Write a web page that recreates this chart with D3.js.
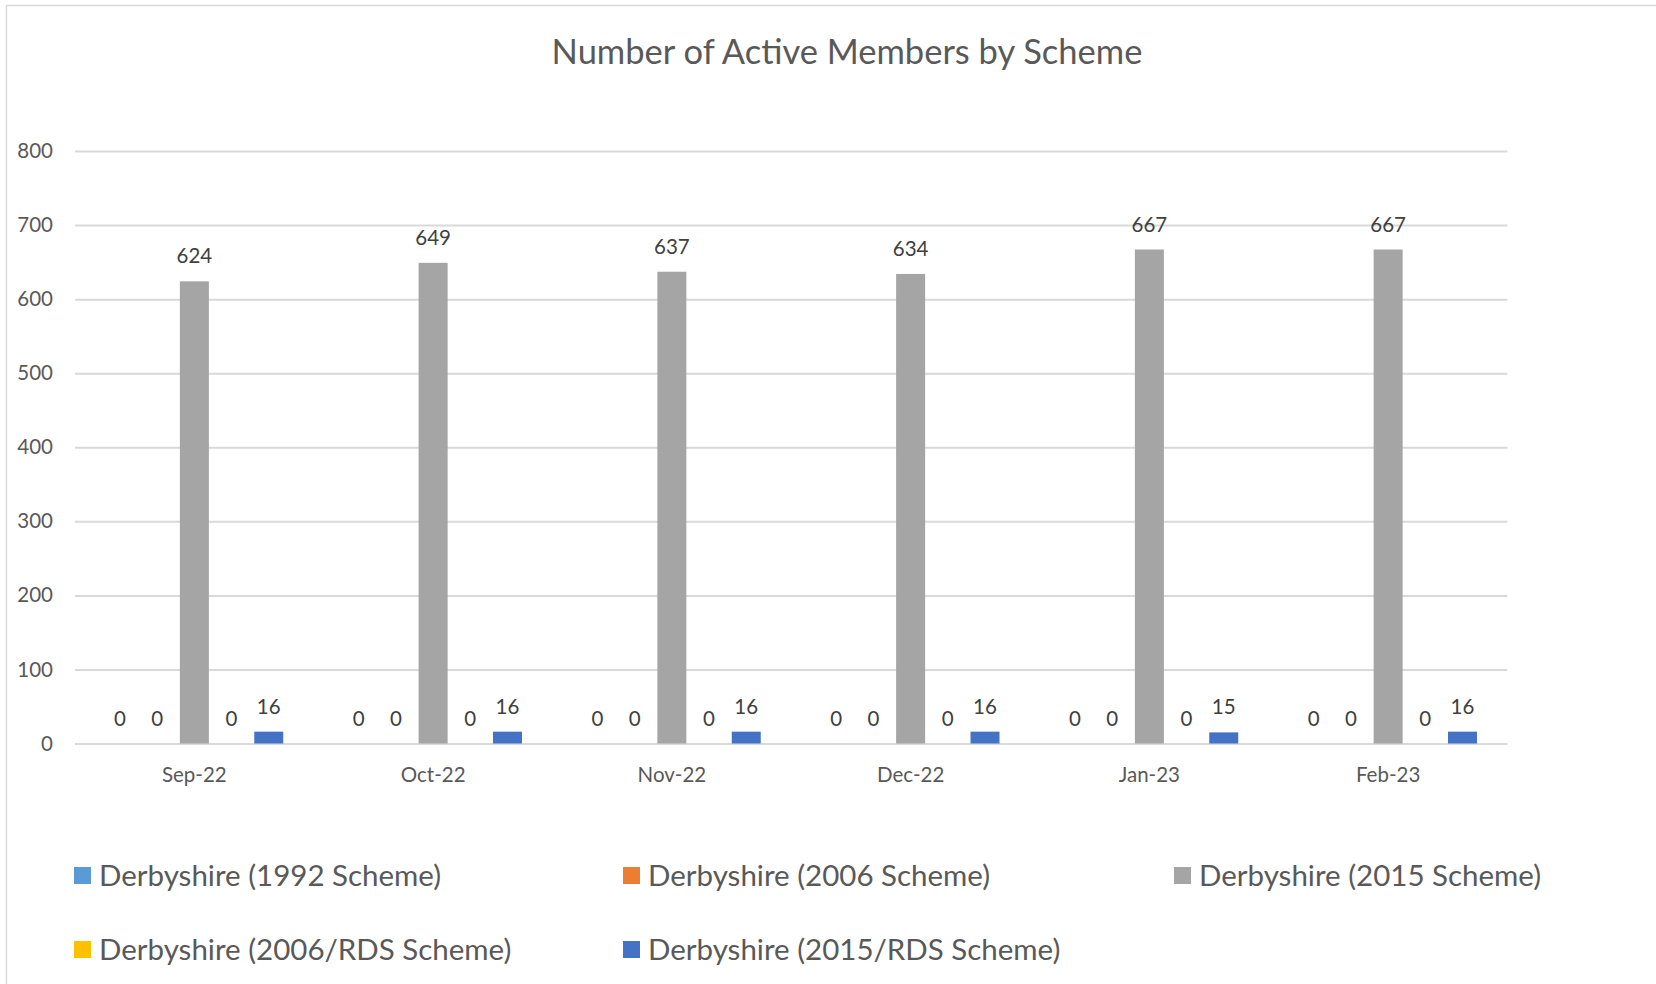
<!DOCTYPE html>
<html>
<head>
<meta charset="utf-8">
<script src="https://cdnjs.cloudflare.com/ajax/libs/d3/7.8.5/d3.min.js"></script>
<style>
  body { margin: 0; background: #ffffff; }
  svg { display: block; font-family: Lato, "Open Sans", sans-serif; }
</style>
</head>
<body>
<svg></svg>
<script>
// Category labels along the x axis
let months = ["Sep-22", "Oct-22", "Nov-22", "Dec-22", "Jan-23", "Feb-23"];

// One array per scheme
let scheme1992 = [0, 0, 0, 0, 0, 0];
let scheme2006 = [0, 0, 0, 0, 0, 0];
let scheme2015 = [624, 649, 637, 634, 667, 667];
let scheme2006Rds = [0, 0, 0, 0, 0, 0];
let scheme2015Rds = [16, 16, 16, 16, 15, 16];

// Series names, in the order they are drawn
let seriesNames = [
  "Derbyshire (1992 Scheme)",
  "Derbyshire (2006 Scheme)",
  "Derbyshire (2015 Scheme)",
  "Derbyshire (2006/RDS Scheme)",
  "Derbyshire (2015/RDS Scheme)"
];
let seriesColors = ["#5b9bd5", "#ed7d31", "#a5a5a5", "#ffc000", "#4472c4"];
let yTicks = [0, 100, 200, 300, 400, 500, 600, 700, 800];

let series = [scheme1992, scheme2006, scheme2015, scheme2006Rds, scheme2015Rds];

let width = 1656;
let height = 984;
let plotLeft = 75;
let plotRight = 1507.5;
let plotTop = 151;
let plotBottom = 743.5;

let svg = d3.select("svg").attr("width", width).attr("height", height);

// chart frame, only left and top edges fall inside the picture
svg.append("rect")
   .attr("x", 6.5)
   .attr("y", 5.5)
   .attr("width", 2000)
   .attr("height", 2000)
   .attr("fill", "none")
   .attr("stroke", "#d9d9d9")
   .attr("stroke-width", 1.5);

// title
svg.append("text")
   .attr("x", 847)
   .attr("y", 63.5)
   .attr("text-anchor", "middle")
   .attr("font-size", 34.5)
   .attr("fill", "#595959")
   .text("Number of Active Members by Scheme");

// scales
let xScale = d3.scaleBand()
               .domain(months)
               .range([plotLeft, plotRight]);

let xInner = d3.scaleBand()
               .domain(d3.range(series.length))
               .range([0, xScale.bandwidth()])
               .paddingInner(0.22)
               .paddingOuter(0.82);

let yScale = d3.scaleLinear()
               .domain([0, 800])
               .range([plotBottom, plotTop]);

// gridlines + y labels
let yAxis = d3.axisLeft(yScale)
              .tickValues(yTicks)
              .tickSize(-(plotRight - plotLeft))
              .tickPadding(22);

let yAxisG = svg.append("g")
   .attr("transform", `translate(${plotLeft}, 0)`)
   .call(yAxis);
yAxisG.select(".domain").remove();
yAxisG.selectAll("line").attr("stroke", "#d9d9d9").attr("stroke-width", 2);
yAxisG.selectAll("text")
      .attr("font-size", 20.5)
      .attr("font-family", "Lato, sans-serif")
      .attr("fill", "#595959");

// x labels
let xAxis = d3.axisBottom(xScale).tickSize(0).tickPadding(0);
let xAxisG = svg.append("g")
   .attr("transform", `translate(0, ${plotBottom})`)
   .call(xAxis);
xAxisG.select(".domain").remove();
xAxisG.selectAll("text")
      .attr("dy", 0)
      .attr("y", 38)
      .attr("font-size", 20.5)
      .attr("font-family", "Lato, sans-serif")
      .attr("fill", "#595959");

// bars and data labels
let groups = svg.selectAll(".group")
   .data(months)
   .enter()
   .append("g")
   .attr("class", "group")
   .attr("transform", (d) => `translate(${xScale(d)}, 0)`);

series.forEach((values, s) => {
  groups.append("rect")
        .attr("x", xInner(s))
        .attr("width", xInner.bandwidth())
        .attr("y", (d, i) => yScale(values[i]))
        .attr("height", (d, i) => plotBottom - yScale(values[i]))
        .attr("fill", seriesColors[s]);

  groups.append("text")
        .attr("x", xInner(s) + xInner.bandwidth() / 2)
        .attr("y", (d, i) => yScale(values[i]) - 18)
        .attr("text-anchor", "middle")
        .attr("font-size", 20.5)
        .attr("fill", "#404040")
        .text((d, i) => values[i]);
});

// legend, three items per row
let legendCols = [74, 623, 1174];
let legendRows = [875.5, 949.5];

let legend = svg.selectAll(".legend")
   .data(seriesNames)
   .enter()
   .append("g")
   .attr("class", "legend")
   .attr("transform", (d, i) => `translate(${legendCols[i % 3]}, ${legendRows[Math.floor(i / 3)]})`);

legend.append("rect")
      .attr("x", 0)
      .attr("y", -8.5)
      .attr("width", 17)
      .attr("height", 17)
      .attr("fill", (d, i) => seriesColors[i]);

legend.append("text")
      .attr("x", 25)
      .attr("y", 10)
      .attr("font-size", 29.5)
      .attr("fill", "#595959")
      .text((d) => d);
</script>
</body>
</html>
